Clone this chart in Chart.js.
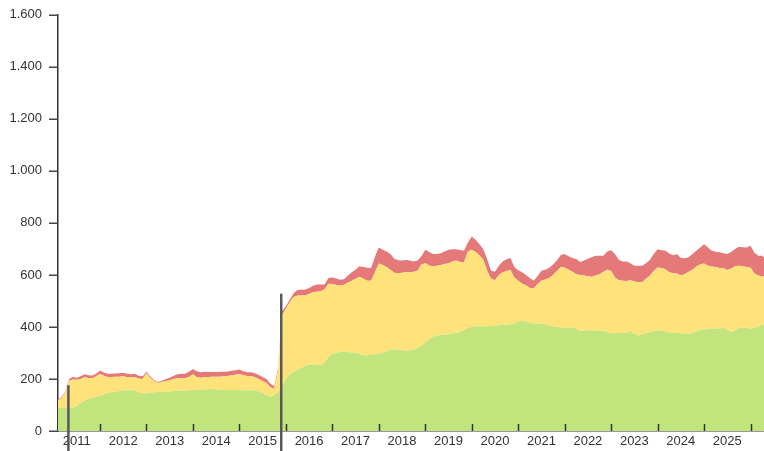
<!DOCTYPE html>
<html><head><meta charset="utf-8">
<script src="https://cdn.jsdelivr.net/npm/chart.js@4/dist/chart.umd.min.js"></script>
<style>html,body{margin:0;padding:0;background:#fff;overflow:hidden}</style>
</head><body>
<canvas id="c" width="764" height="451"></canvas>
<script>
// Monthly series, first point = February 2011
const startYear = 2011;
const firstMonth = 1; // months after January of startYear
const greenValues = [88,88,88,89,90,95,108,116,122,127,132,136,141,146,150,150,155,157,157,157,156,150,145,144,147,149,150,150,151,152,154,155,156,156,157,158,158,158,160,161,161,160,159,158,157,157,158,157,157,157,157,157,152,146,138,132,138,150,170,198,
218,228,235,243,250,255,257,256,252,262,285,296,300,305,306,304,302,300,296,292,290,294,295,297,302,307,311,313,312,310,308,310,313,318,328,340,352,362,367,369,370,372,375,378,381,388,396,402,403,403,402,403,404,404,407,408,408,410,413,420,425,420,415,412,413,412,410,405,402,400,398,396,398,399,393,385,386,387,386,385,384,384,382,377,376,377,378,378,384,375,367,371,376,380,385,387,385,382,380,378,377,376,375,374,378,383,388,390,391,393,394,395,396,390,381,388,396,399,397,393,396,402,408,410];
const yellowValues = [29,38,57,104,108,102,92,91,82,76,78,83,71,62,58,59,54,53,50,49,52,52,55,78,58,42,35,38,41,43,46,48,47,47,51,60,49,47,47,47,48,49,50,52,54,57,58,62,57,54,54,50,48,46,47,36,25,82,275,272,
277,287,286,278,271,272,276,279,285,283,281,269,261,254,256,266,276,285,297,293,288,284,315,347,336,323,309,295,294,298,302,300,299,298,312,305,284,270,268,269,272,273,277,277,269,260,294,295,285,272,256,212,181,176,193,202,207,209,177,158,141,140,135,136,152,166,172,183,198,215,232,232,222,213,210,215,212,208,207,213,219,228,238,238,214,203,200,199,196,200,205,201,209,217,230,242,242,240,230,228,228,222,228,238,242,249,252,254,244,239,236,232,230,229,244,245,239,234,233,235,209,196,186,183];
const redValues = [3,4,5,7,10,8,10,11,10,10,10,14,13,12,12,12,13,14,13,12,12,10,10,6,5,4,3,5,8,10,12,15,17,17,20,20,23,21,21,19,18,18,19,18,18,18,18,17,16,15,15,15,15,16,15,14,9,9,15,10,
10,15,21,22,23,23,25,28,26,18,22,25,25,22,21,27,32,35,40,45,50,49,60,61,59,60,60,54,50,47,47,45,40,39,32,52,52,48,45,45,48,52,47,44,46,45,35,51,47,43,41,45,31,32,35,42,45,46,40,40,44,40,38,30,31,38,38,40,40,40,47,52,52,53,58,50,57,67,75,76,71,62,70,80,90,77,74,75,65,60,63,63,60,60,65,70,68,71,72,70,75,67,61,56,60,61,65,74,70,61,59,60,57,61,63,67,73,73,75,84,80,76,80,68];
const yearLabels = [2011,2012,2013,2014,2015,2016,2017,2018,2019,2020,2021,2022,2023,2024,2025];
const yTicks = [0,200,400,600,800,1000,1200,1400,1600];
const markers = [{date: 2011.32, value: 176}, {date: 2015.9, value: 528}];
const xMin = 2011.096, xMax = 2026.29;

const dates = greenValues.map((_, i) => startYear + (firstMonth + i) / 12);
const toPts = arr => arr.map((v, i) => ({x: dates[i], y: v}));

function fmt(v) {
  return String(v).replace(/\B(?=(\d{3})+(?!\d))/g, '.');
}

const decor = {
  id: 'decor',
  afterDraw(chart) {
    const ctx = chart.ctx, xs = chart.scales.x, ys = chart.scales.y;
    ctx.save();
    // x tick marks (pointing up into the plot)
    ctx.strokeStyle = '#333';
    ctx.lineWidth = 1.5;
    for (let yr = yearLabels[0] + 1; yr <= yearLabels[yearLabels.length - 1] + 1; yr++) {
      const px = Math.round(xs.getPixelForValue(yr)) + 0.5;
      ctx.beginPath();
      ctx.moveTo(px, ys.bottom);
      ctx.lineTo(px, ys.bottom - 7);
      ctx.stroke();
    }
    // y tick marks (pointing left)
    ctx.strokeStyle = '#444';
    ctx.lineWidth = 1.5;
    yTicks.forEach(v => {
      const py = Math.round(ys.getPixelForValue(v)) + 0.25;
      ctx.beginPath();
      ctx.moveTo(xs.left - 9, py);
      ctx.lineTo(xs.left, py);
      ctx.stroke();
    });
    // event markers
    ctx.strokeStyle = '#58575c';
    ctx.lineWidth = 2.5;
    markers.forEach(m => {
      const px = xs.getPixelForValue(m.date);
      const py = ys.getPixelForValue(m.value);
      ctx.beginPath();
      ctx.moveTo(px, py);
      ctx.lineTo(px, chart.height);
      ctx.stroke();
    });
    ctx.restore();
  }
};

const font = {family: '"Liberation Sans", Arial, sans-serif', size: 13};

new Chart(document.getElementById('c'), {
  type: 'line',
  data: {
    datasets: [
      {data: toPts(greenValues), backgroundColor: '#c2e47c', fill: 'origin'},
      {data: toPts(yellowValues), backgroundColor: '#ffe27a', fill: '-1'},
      {data: toPts(redValues), backgroundColor: '#e57878', fill: '-1'}
    ].map(d => Object.assign(d, {borderWidth: 0, pointRadius: 0, tension: 0}))
  },
  options: {
    responsive: false,
    animation: false,
    events: [],
    layout: {padding: {top: 13, left: 0, right: 0, bottom: 0}},
    plugins: {legend: {display: false}, tooltip: {enabled: false}},
    scales: {
      x: {
        type: 'linear',
        min: xMin, max: xMax,
        afterBuildTicks(scale) {
          const t = [];
          yearLabels.forEach(y => { t.push({value: y + 0.5}); t.push({value: y + 1}); });
          scale.ticks = t;
        },
        afterFit(scale) { scale.height = 20; },
        grid: {display: false, drawTicks: false},
        border: {display: true, color: '#333', width: 1.5},
        ticks: {
          autoSkip: false, maxRotation: 0, padding: 3,
          color: '#333', font: font,
          callback: v => Number.isInteger(v) ? '' : String(Math.floor(v))
        }
      },
      y: {
        type: 'linear',
        stacked: true,
        min: 0, max: 1600,
        afterBuildTicks(scale) { scale.ticks = yTicks.map(v => ({value: v})); },
        afterFit(scale) { scale.width = 58; },
        grid: {display: true, drawOnChartArea: false, drawTicks: true, tickLength: 9, color: 'rgba(0,0,0,0)'},
        border: {display: true, color: '#333', width: 1.5},
        ticks: {padding: 7, color: '#333', font: font, callback: v => fmt(v)}
      }
    }
  },
  plugins: [decor]
});
</script>
</body></html>
